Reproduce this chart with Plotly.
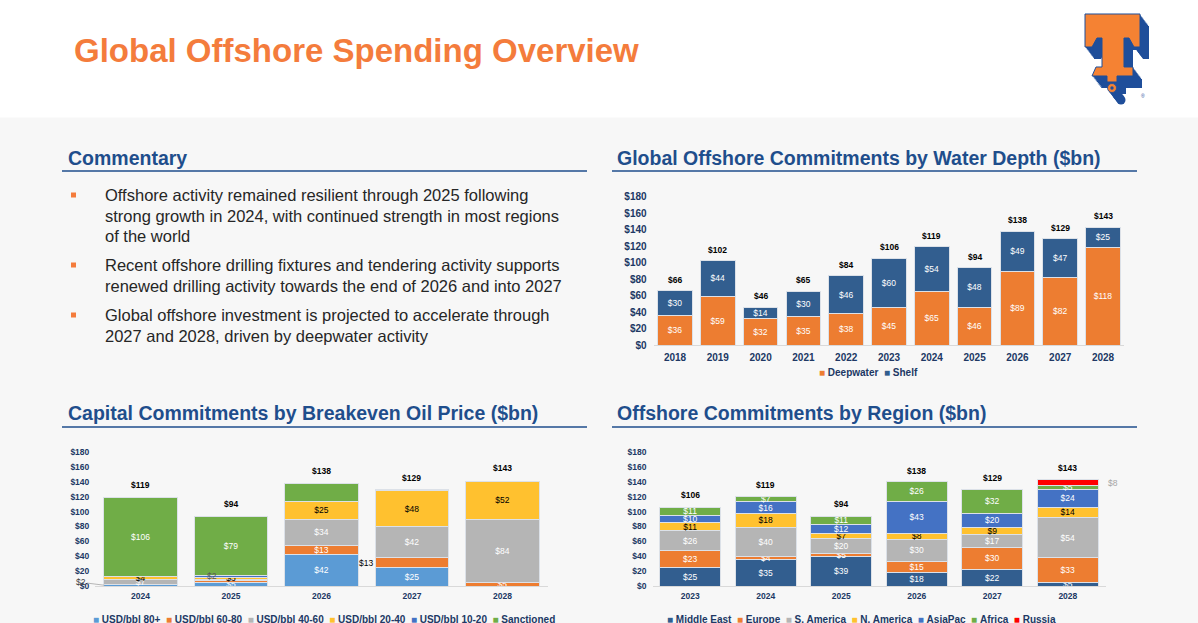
import plotly.graph_objects as go

W, H = 1198, 623
FONT = "Liberation Sans, Arial, sans-serif"
NAVY = "#203864"
TITLE_BLUE = "#1F4E8C"
EDGE = "#DCE1E8"

# ---------------- data ----------------
# Global offshore commitments by water depth ($bn)
depth_years = ["2018", "2019", "2020", "2021", "2022", "2023", "2024", "2025", "2026", "2027", "2028"]
deepwater = [36, 59, 32, 35, 38, 45, 65, 46, 89, 82, 118]
shelf = [30, 44, 14, 30, 46, 60, 54, 48, 49, 47, 25]
depth_totals = [66, 102, 46, 65, 84, 106, 119, 94, 138, 129, 143]

# Capital commitments by breakeven oil price ($bn)
be_years = ["2024", "2025", "2026", "2027", "2028"]
be_names = ["USD/bbl 80+", "USD/bbl 60-80", "USD/bbl 40-60", "USD/bbl 20-40", "USD/bbl 10-20", "Sanctioned"]
be_80_plus = [2, 5, 42, 25, 0]
be_60_80 = [0, 2, 13, 13, 5]
be_40_60 = [7, 2, 34, 42, 84]
be_20_40 = [4, 3, 25, 48, 52]
be_10_20 = [0, 2, 0, 1, 0]
be_sanctioned = [106, 79, 24, 0, 0]
be_totals = [119, 94, 138, 129, 143]

# Offshore commitments by region ($bn)
reg_years = ["2023", "2024", "2025", "2026", "2027", "2028"]
reg_names = ["Middle East", "Europe", "S. America", "N. America", "AsiaPac", "Africa", "Russia"]
middle_east = [25, 35, 39, 18, 22, 5]
europe = [23, 4, 5, 15, 30, 33]
s_america = [26, 40, 20, 30, 17, 54]
n_america = [11, 18, 7, 8, 9, 14]
asiapac = [10, 16, 12, 43, 20, 24]
africa = [11, 7, 11, 26, 32, 5]
russia = [0, 0, 0, 0, 0, 8]
reg_totals = [106, 119, 94, 138, 129, 143]

commentary = [
    ["Offshore activity remained resilient through 2025 following",
     "strong growth in 2024, with continued strength in most regions",
     "of the world"],
    ["Recent offshore drilling fixtures and tendering activity supports",
     "renewed drilling activity towards the end of 2026 and into 2027"],
    ["Global offshore investment is projected to accelerate through",
     "2027 and 2028, driven by deepwater activity"],
]


def fx(x):
    return x / W


def fy(y):
    return 1 - y / H


fig = go.Figure()


def add_stack(names, series, colors, txt_colors, cats, xa, ya, hidden=()):
    for i, vals in enumerate(series):
        labels = ["" if v == 0 or (i, j) in hidden else "$%d" % v for j, v in enumerate(vals)]
        fig.add_trace(go.Bar(
            x=cats, y=vals, name=names[i], xaxis=xa, yaxis=ya,
            marker=dict(color=colors[i], line=dict(color=EDGE, width=1)),
            text=labels, textposition="inside", insidetextanchor="middle",
            textangle=0, constraintext="none", cliponaxis=False,
            textfont=dict(family=FONT, size=8.5, color=txt_colors[i]),
            showlegend=False, hoverinfo="skip"))


depth_colors = ["#ED7D31", "#325E8F"]
add_stack(["Deepwater", "Shelf"], [deepwater, shelf], depth_colors, ["white", "white"],
          depth_years, "x", "y")

be_series = [be_80_plus, be_60_80, be_40_60, be_20_40, be_10_20, be_sanctioned]
be_colors = ["#5B9BD5", "#ED7D31", "#B5B5B5", "#FFC12F", "#4472C4", "#70AD47"]
be_txt = ["white", "white", "white", "black", "white", "white"]
# labels drawn outside / offset, or not shown at all
be_hidden = {(0, 0), (1, 1), (2, 1), (4, 1), (5, 2), (1, 3), (4, 3)}
add_stack(be_names, be_series, be_colors, be_txt, be_years, "x2", "y2", be_hidden)

reg_series = [middle_east, europe, s_america, n_america, asiapac, africa, russia]
reg_colors = ["#325E8F", "#ED7D31", "#B5B5B5", "#FFC12F", "#4472C4", "#70AD47", "#FF0000"]
reg_txt = ["white", "white", "white", "black", "white", "white", "white"]
add_stack(reg_names, reg_series, reg_colors, reg_txt, reg_years, "x3", "y3", {(6, 5)})


def seg_mid(series, i, j):
    return sum(s[j] for s in series[:i]) + series[i][j] / 2


ann = []


# annotations on category axes take the category index as position
def total_labels(cats, totals, xr, yr, shift):
    for j, t in enumerate(totals):
        ann.append(dict(x=j, y=t, xref=xr, yref=yr, text="$%d" % t, showarrow=False,
                        yshift=shift, font=dict(family=FONT, size=8.5, color="black", weight="bold")))


total_labels(depth_years, depth_totals, "x", "y", 11)
total_labels(be_years, be_totals, "x2", "y2", 12)
total_labels(reg_years, reg_totals, "x3", "y3", 12)

# odd segment labels
ann.append(dict(x=0, y=seg_mid(be_series, 0, 0), xref="x2", yref="y2", xshift=-36,
                text="$%d" % be_80_plus[0], showarrow=True, arrowhead=0, arrowwidth=0.8,
                arrowcolor="#A6A6A6", ax=-24, ay=-3,
                font=dict(family=FONT, size=8.5, color="#404040")))
ann.append(dict(x=1, y=seg_mid(be_series, 4, 1), xref="x2", yref="y2", xshift=-19,
                text="$%d" % be_10_20[1], showarrow=False,
                font=dict(family=FONT, size=8.5, color="#595959")))
ann.append(dict(x=3, y=seg_mid(be_series, 1, 3), xref="x2", yref="y2", xshift=-37,
                xanchor="right", text="$%d" % be_60_80[3], showarrow=False,
                font=dict(family=FONT, size=8.5, color="black")))
ann.append(dict(x=5, y=seg_mid(reg_series, 6, 5), xref="x3", yref="y3", xshift=38,
                xanchor="left", text="$%d" % russia[5], showarrow=False,
                font=dict(family=FONT, size=8.5, color="#A6A6A6")))


def legend_text(names, colors):
    parts = ["<span style='color:%s'>\u25A0</span>\u00a0%s" % (c, n) for n, c in zip(names, colors)]
    return "\u00a0\u00a0".join(parts)


legend_font = dict(family=FONT, size=10, color=NAVY, weight="bold")
ann.append(dict(x=fx(817), y=fy(372), xref="paper", yref="paper", xanchor="left", yanchor="middle",
                text=legend_text(["Deepwater", "Shelf"], depth_colors), showarrow=False, font=legend_font))
ann.append(dict(x=fx(91), y=fy(619), xref="paper", yref="paper", xanchor="left", yanchor="middle",
                text=legend_text(be_names, be_colors), showarrow=False, font=legend_font))
ann.append(dict(x=fx(665), y=fy(619), xref="paper", yref="paper", xanchor="left", yanchor="middle",
                text=legend_text(reg_names, reg_colors), showarrow=False, font=legend_font))

# titles
ann.append(dict(x=fx(72), y=fy(51), xref="paper", yref="paper", xanchor="left", yanchor="middle",
                text="Global Offshore Spending Overview", showarrow=False,
                font=dict(family=FONT, size=33, color="#F47C3C", weight="bold")))
for tx, ty, t in [(66, 158, "Commentary"),
                  (615, 158, "Global Offshore Commitments by Water Depth ($bn)"),
                  (66, 413, "Capital Commitments by Breakeven Oil Price ($bn)"),
                  (615, 413, "Offshore Commitments by Region ($bn)")]:
    ann.append(dict(x=fx(tx), y=fy(ty), xref="paper", yref="paper", xanchor="left", yanchor="middle",
                    text=t, showarrow=False, font=dict(family=FONT, size=19.5, color=TITLE_BLUE, weight="bold")))

shapes = [
    dict(type="rect", xref="paper", yref="paper", x0=0, x1=1, y0=0, y1=fy(117.5),
         fillcolor="#F7F7F7", line=dict(width=0), layer="below"),
]
for x0, x1, yy in [(62, 587, 171), (612, 1137, 171), (62, 587, 427), (612, 1137, 427)]:
    shapes.append(dict(type="line", xref="paper", yref="paper", x0=fx(x0), x1=fx(x1), y0=fy(yy), y1=fy(yy),
                       line=dict(color=TITLE_BLUE, width=1.5)))

# commentary bullets
starts = [195, 265, 315]
for para, y0 in zip(commentary, starts):
    shapes.append(dict(type="rect", xref="paper", yref="paper", x0=fx(71), x1=fx(76),
                       y0=fy(y0 - 2.5), y1=fy(y0 + 2.5), fillcolor="#F47C3C", line=dict(width=0)))
    for k, line in enumerate(para):
        ann.append(dict(x=fx(103), y=fy(y0 + k * 20.5), xref="paper", yref="paper", xanchor="left",
                        yanchor="middle", text=line, showarrow=False,
                        font=dict(family=FONT, size=16.5, color="#262626")))

# logo
T_PTS = [(1085, 14), (1140, 14), (1140, 47), (1134, 47), (1129, 38), (1124, 38), (1124, 67),
         (1133, 67), (1133, 76), (1117, 76), (1117, 82), (1107, 82), (1107, 76), (1092, 76),
         (1096, 67), (1102, 67), (1102, 38), (1097, 38), (1092, 47), (1085, 47)]


def tpath(dx, dy):
    return "M " + " L ".join("%.5f,%.5f" % (fx(x + dx), fy(y + dy)) for x, y in T_PTS) + " Z"


LOGO_BLUE = "#1F4E9A"
for k in range(1, 11):
    dx, dy = k * 0.9, k * 1.2
    shapes.append(dict(type="path", xref="paper", yref="paper", path=tpath(dx, dy),
                       fillcolor=LOGO_BLUE, line=dict(width=0)))
    shapes.append(dict(type="circle", xref="paper", yref="paper",
                       x0=fx(1107.5 + dx), x1=fx(1116.5 + dx), y0=fy(83.5 + dy), y1=fy(92.5 + dy),
                       fillcolor=LOGO_BLUE, line=dict(width=0)))
shapes.append(dict(type="path", xref="paper", yref="paper", path=tpath(0, 0),
                   fillcolor="#F58233", line=dict(color=LOGO_BLUE, width=1)))
shapes.append(dict(type="circle", xref="paper", yref="paper", x0=fx(1107.5), x1=fx(1116.5),
                   y0=fy(83.5), y1=fy(92.5), fillcolor="#F58233", line=dict(color=LOGO_BLUE, width=0.8)))
shapes.append(dict(type="circle", xref="paper", yref="paper", x0=fx(1110.3), x1=fx(1113.7),
                   y0=fy(86.3), y1=fy(89.7), fillcolor=LOGO_BLUE, line=dict(width=0)))
ann.append(dict(x=fx(1147), y=fy(91), xref="paper", yref="paper", text="\u00ae", showarrow=False,
                font=dict(family=FONT, size=5, color=LOGO_BLUE)))


def xaxis(domain, anchor, size, standoff, n):
    return dict(domain=domain, anchor=anchor, type="category", range=[-0.5, n - 0.5],
                showline=True, linecolor="#D9D9D9", automargin=False,
                linewidth=1, ticks="", showgrid=False, zeroline=False, fixedrange=True,
                ticklabelstandoff=standoff,
                tickfont=dict(family=FONT, size=size, color=NAVY, weight="bold"))


def yaxis(domain, anchor, size, standoff):
    return dict(domain=domain, anchor=anchor, range=[0, 180], dtick=20, tick0=0, tickprefix="$",
                showline=False, showgrid=False, zeroline=False, ticks="", fixedrange=True,
                automargin=False, ticklabelstandoff=standoff,
                tickfont=dict(family=FONT, size=size, color=NAVY, weight="bold"))


fig.update_layout(
    template="none",
    width=W, height=H, autosize=False,
    margin=dict(l=0, r=0, t=0, b=0, pad=0),
    paper_bgcolor="white", plot_bgcolor="rgba(0,0,0,0)",
    barmode="stack", bargap=0.19,
    font=dict(family=FONT),
    xaxis=xaxis([fx(653.6), fx(1124.4)], "y", 10, 3, len(depth_years)),
    yaxis=yaxis([fy(345), fy(196.7)], "x", 10, 6),
    xaxis2=xaxis([fx(95.3), fx(547.7)], "y2", 8.5, 2, len(be_years)),
    yaxis2=yaxis([fy(586), fy(452)], "x2", 8.5, 5),
    xaxis3=xaxis([fx(652.5), fx(1105.6)], "y3", 8.5, 2, len(reg_years)),
    yaxis3=yaxis([fy(586), fy(452)], "x3", 8.5, 5),
    annotations=ann,
    shapes=shapes,
    showlegend=False,
)

fig.write_html("out.html", config={"displayModeBar": False},
               post_script="document.body.style.margin='0px';document.body.style.overflow='hidden';")
